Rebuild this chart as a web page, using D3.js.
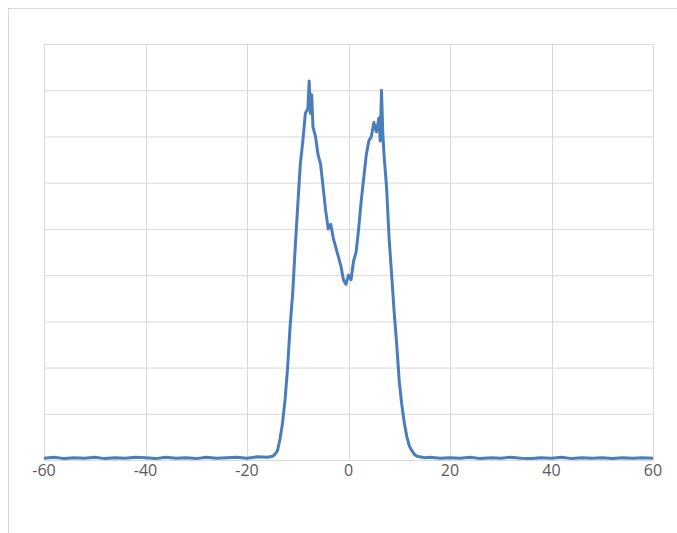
<!DOCTYPE html>
<html><head><meta charset="utf-8">
<script src="https://cdn.jsdelivr.net/npm/d3@7"></script>
<style>body{margin:0;background:#fff}</style>
</head><body>
<svg id="chart" width="677" height="533"></svg>
<script>
// x positions and heights (in grid units, 0..9)
var xs = [-60,-58,-56,-54,-52,-50,-48,-46,-44,-42,-40,-38,-36,-34,-32,-30,-28,-26,-24,-22,-20,-18,-16,-15,-14.5,-14,-13.5,-13,-12.5,-12,-11.5,-11,-10.5,-10,-9.5,-9,-8.5,-8,-7.75,-7.5,-7.25,-7,-6.5,-6,-5.5,-5,-4.5,-4,-3.5,-3,-2.5,-2,-1.5,-1,-0.5,0,0.5,1,1.5,2,2.5,3,3.5,4,4.5,5,5.5,6,6.25,6.5,6.75,7,7.5,8,8.5,9,9.5,10,10.5,11,11.5,12,12.5,13,13.5,14,15,16,18,20,22,24,26,28,30,32,34,36,38,40,42,44,46,48,50,52,54,56,58,60];
var ys = [0.04,0.06,0.03,0.05,0.04,0.06,0.03,0.05,0.04,0.06,0.05,0.03,0.06,0.04,0.05,0.03,0.06,0.04,0.05,0.06,0.04,0.07,0.06,0.08,0.12,0.2,0.45,0.8,1.3,2.0,2.9,3.6,4.6,5.5,6.4,6.9,7.5,7.6,8.2,7.5,7.9,7.2,7.0,6.6,6.4,5.9,5.4,5.0,5.1,4.8,4.6,4.4,4.2,3.9,3.8,4.0,3.9,4.3,4.5,5.0,5.6,6.1,6.6,6.9,7.0,7.3,7.1,7.4,6.9,8.0,7.1,6.6,5.9,4.8,4.0,3.2,2.5,1.7,1.2,0.8,0.5,0.3,0.2,0.12,0.08,0.07,0.05,0.06,0.04,0.05,0.04,0.06,0.03,0.05,0.04,0.06,0.04,0.03,0.05,0.04,0.06,0.03,0.05,0.04,0.05,0.03,0.05,0.04,0.05,0.04];
var xTicks = [-60,-40,-20,0,20,40,60];
var yTicks = [0,1,2,3,4,5,6,7,8,9];

var svg = d3.select("#chart");
svg.append("rect").attr("x",8.5).attr("y",8.5).attr("width",680).attr("height",540)
  .attr("fill","none").attr("stroke","#d9d9d9");

var x = d3.scaleLinear().domain([-60,60]).range([44,653]);
var y = d3.scaleLinear().domain([0,9]).range([460,44]);

svg.append("g").selectAll("line").data(yTicks).enter().append("line")
  .attr("x1",44).attr("x2",653).attr("y1",d=>y(d)+0.5).attr("y2",d=>y(d)+0.5)
  .attr("stroke","#d9d9d9");
svg.append("g").selectAll("line").data(xTicks).enter().append("line")
  .attr("y1",44).attr("y2",460).attr("x1",d=>Math.round(x(d))+0.5).attr("x2",d=>Math.round(x(d))+0.5)
  .attr("stroke","#d9d9d9");

svg.append("g").selectAll("text").data(xTicks).enter().append("text")
  .attr("x",d=>x(d)).attr("y",476).attr("text-anchor","middle")
  .attr("font-family","Open Sans, sans-serif").attr("font-size",16).attr("fill","#595959")
  .text(d=>d);

var line = d3.line().x((d,i)=>x(xs[i])).y(d=>y(d));
svg.append("path").datum(ys).attr("d",line).attr("fill","none")
  .attr("stroke","#4a7ebb").attr("stroke-width",3).attr("stroke-linejoin","round");
</script>
</body></html>
